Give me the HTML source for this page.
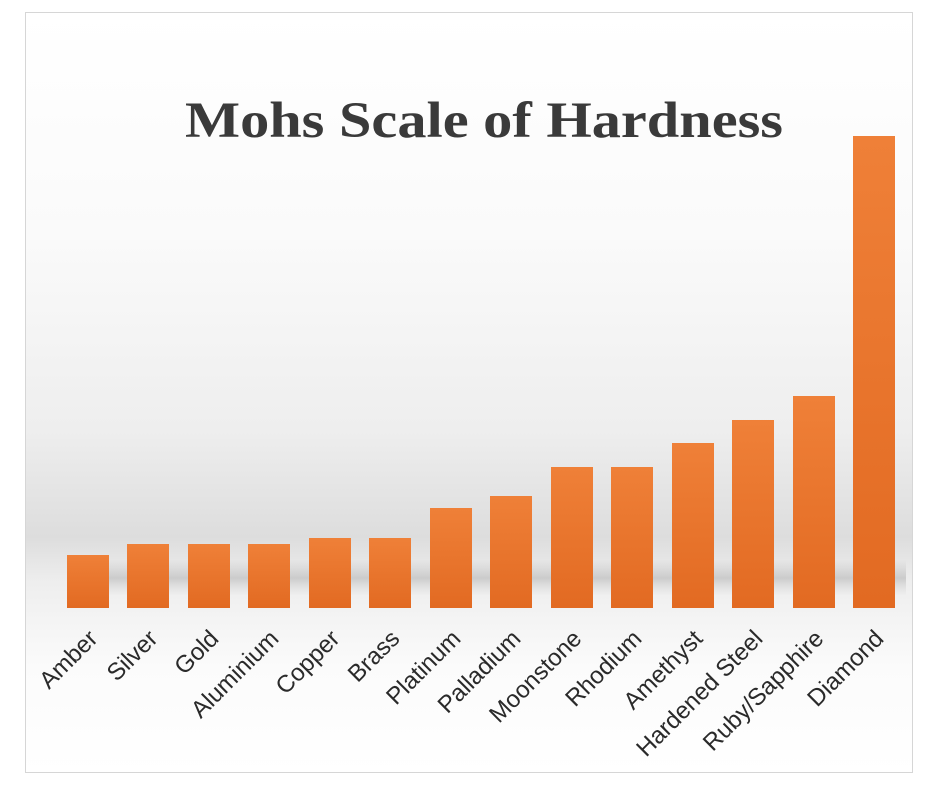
<!DOCTYPE html>
<html><head><style>body{margin:0;background:#fff}</style></head><body>
<svg width="940" height="788" xmlns="http://www.w3.org/2000/svg">
<defs>
<linearGradient id="bg" x1="0" y1="0" x2="0" y2="1">
<stop offset="0" stop-color="#ffffff"/>
<stop offset="0.3" stop-color="#fafafa"/>
<stop offset="0.55" stop-color="#eeeeee"/>
<stop offset="0.69" stop-color="#dddddd"/>
<stop offset="0.75" stop-color="#eeeeee"/>
<stop offset="0.86" stop-color="#fbfbfb"/>
<stop offset="1" stop-color="#ffffff"/>
</linearGradient>
<linearGradient id="bar" x1="0" y1="0" x2="0" y2="1">
<stop offset="0" stop-color="#ef8038"/>
<stop offset="1" stop-color="#e26a22"/>
</linearGradient>
<linearGradient id="sh" x1="0" y1="0" x2="0" y2="1">
<stop offset="0" stop-color="#bbb" stop-opacity="0"/>
<stop offset="0.5" stop-color="#b5b5b5" stop-opacity="0.6"/>
<stop offset="1" stop-color="#ccc" stop-opacity="0"/>
</linearGradient>
</defs>
<rect x="25.5" y="12.5" width="887" height="760" fill="url(#bg)" stroke="#d6d6d6"/>
<rect x="80" y="560" width="826" height="36" fill="url(#sh)"/>
<text x="185" y="137" font-family="Liberation Serif, serif" font-size="51" font-weight="bold" fill="#3a3a3a" textLength="598" lengthAdjust="spacingAndGlyphs">Mohs Scale of Hardness</text>
<g fill="url(#bar)">
<rect x="67" y="555" width="42" height="53"/>
<rect x="127" y="544" width="42" height="64"/>
<rect x="188" y="544" width="42" height="64"/>
<rect x="248" y="544" width="42" height="64"/>
<rect x="309" y="538" width="42" height="70"/>
<rect x="369" y="538" width="42" height="70"/>
<rect x="430" y="508" width="42" height="100"/>
<rect x="490" y="496" width="42" height="112"/>
<rect x="551" y="467" width="42" height="141"/>
<rect x="611" y="467" width="42" height="141"/>
<rect x="672" y="443" width="42" height="165"/>
<rect x="732" y="420" width="42" height="188"/>
<rect x="793" y="396" width="42" height="212"/>
<rect x="853" y="136" width="42" height="472"/>
</g>
<g font-family="Liberation Sans, sans-serif" font-size="24" fill="#2a2a2a" text-anchor="end">
<text transform="translate(99,640) rotate(-45)">Amber</text>
<text transform="translate(159,640) rotate(-45)">Silver</text>
<text transform="translate(220,640) rotate(-45)">Gold</text>
<text transform="translate(280,640) rotate(-45)">Aluminium</text>
<text transform="translate(341,640) rotate(-45)">Copper</text>
<text transform="translate(401,640) rotate(-45)">Brass</text>
<text transform="translate(462,640) rotate(-45)">Platinum</text>
<text transform="translate(522,640) rotate(-45)">Palladium</text>
<text transform="translate(583,640) rotate(-45)">Moonstone</text>
<text transform="translate(643,640) rotate(-45)">Rhodium</text>
<text transform="translate(704,640) rotate(-45)">Amethyst</text>
<text transform="translate(764,640) rotate(-45)">Hardened Steel</text>
<text transform="translate(825,640) rotate(-45)">Ruby/Sapphire</text>
<text transform="translate(885,640) rotate(-45)">Diamond</text>
</g>
</svg>
</body></html>
